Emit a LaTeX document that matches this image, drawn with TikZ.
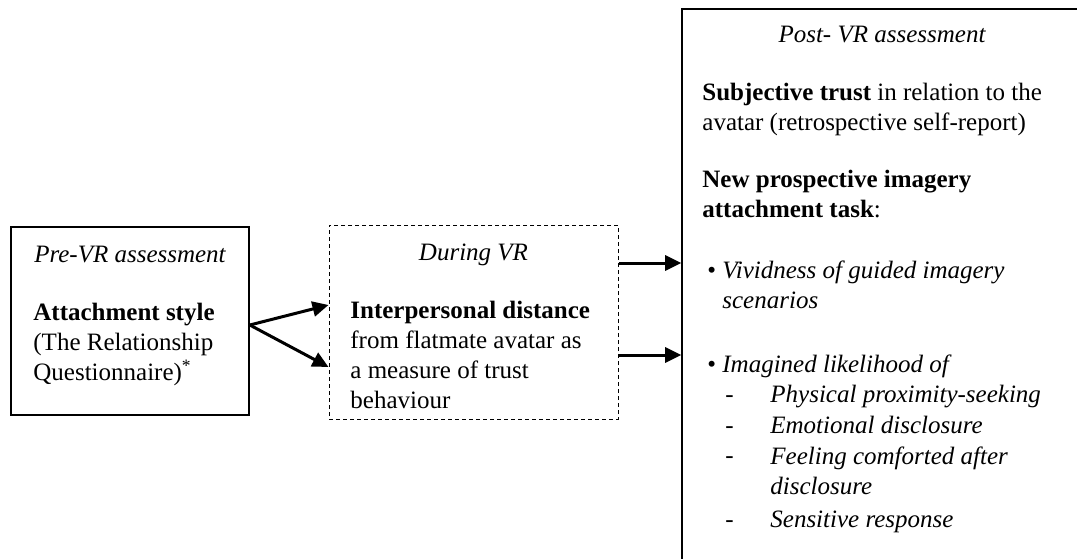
\documentclass[tikz,border=0pt]{standalone}
\usepackage{fontspec}
\setmainfont{Liberation Serif}
\usetikzlibrary{arrows.meta,positioning,calc}

\begin{document}
\begin{tikzpicture}[x=0.5pt, y=-0.5pt,
  every node/.style={font=\fontsize{12.5pt}{15pt}\selectfont},
  stagebox/.style={draw, line width=0.8pt, minimum width=#1},
  txt/.style={inner sep=0pt, anchor=base west, align=left},
  ttl/.style={inner sep=0pt, anchor=base, font=\fontsize{12.5pt}{15pt}\selectfont\itshape},
  flow/.style={-{Triangle[length=8pt,width=7.5pt]}, line width=1.5pt}
]
\useasboundingbox (0,0) rectangle (1077,558);
\clip (0,0) rectangle (1077,558);
% boxes
\node[stagebox=119pt, minimum height=94pt] (pre) at (130,321) {};
\node[stagebox=144.5pt, minimum height=97pt, line width=0.5pt, dash pattern=on 2pt off 1.5pt] (during) at (473.5,322) {};
\node[stagebox=200pt, minimum height=285pt] (post) at (882,294) {};
% texts, pre-VR (base = last line)
\node[ttl] (preT) at (130,262) {Pre-VR assessment};
\node[txt] (preB) at (33,380) {\textbf{Attachment style}\\(The Relationship\\Questionnaire)\textsuperscript{*}};
% texts, during VR
\node[ttl] (durT) at (473.5,260) {During VR};
\node[txt] (durB) at (350,408) {\textbf{Interpersonal distance}\\from flatmate avatar as\\a measure of trust\\behaviour};
% texts, post-VR
\node[ttl] (postT) at (882,42) {Post- VR assessment};
\node[txt] (trust) at (702,130) {\textbf{Subjective trust} in relation to the\\avatar (retrospective self-report)};
\node[txt] (task) at (702,217) {\textbf{New prospective imagery}\\\textbf{attachment task}:};
\node[txt] (b1) at (707,278) {\textbullet};
\node[txt] (vivid) at (722,308) {\textit{Vividness of guided imagery}\\\textit{scenarios}};
\node[txt] (b2) at (707,372) {\textbullet};
\node[txt] (likely) at (722,372) {\textit{Imagined likelihood of}};
\node[txt] (d1) at (725,402) {-};
\node[txt] (prox) at (770,402) {\textit{Physical proximity-seeking}};
\node[txt] (d2) at (725,433) {-};
\node[txt] (emo) at (770,433) {\textit{Emotional disclosure}};
\node[txt] (d3) at (725,463) {-};
\node[txt] (comf) at (770,494) {\textit{Feeling comforted after}\\\textit{disclosure}};
\node[txt] (d4) at (725,527) {-};
\node[txt] (sens) at (770,527) {\textit{Sensitive response}};
% arrows
\coordinate (fork) at (pre.east |- 0,325);
\coordinate (inA) at (during.west |- 0,305);
\coordinate (inB) at (during.west |- 0,367);
\draw[flow] (fork) -- (inA);
\draw[flow] (fork) -- (inB);
\draw[flow] (during.east |- 0,263) -- (post.west |- 0,263);
\draw[flow] (during.east |- 0,355) -- (post.west |- 0,355);
\end{tikzpicture}
\end{document}
